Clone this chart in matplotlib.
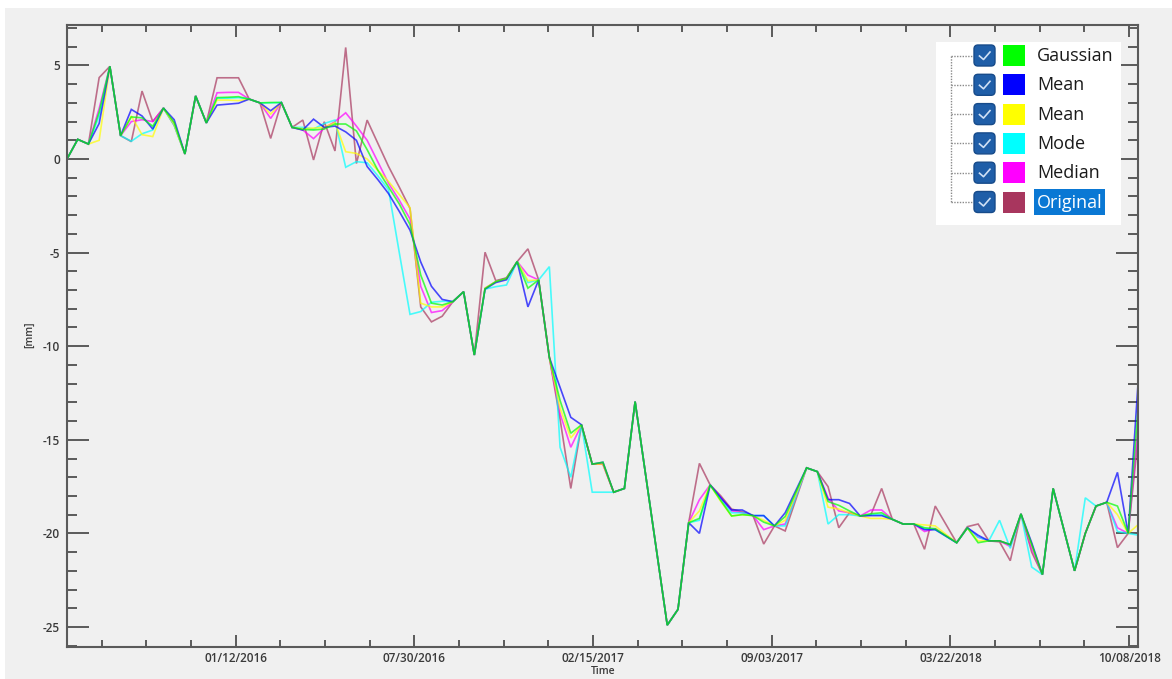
import numpy as np
import matplotlib
matplotlib.use('Agg')
import matplotlib.pyplot as plt
import matplotlib.dates as mdates
from matplotlib.patches import Rectangle, FancyBboxPatch
from matplotlib.ticker import FixedLocator, MultipleLocator, NullFormatter

plt.rcParams['axes.unicode_minus'] = False

# ---------------- data ----------------
start_date = np.datetime64('2015-07-07')
revisit_days = 12
acq_idx = [0, 1, 2, 3, 4, 5, 6, 7, 8, 9,
           10, 11, 12, 13, 14, 15, 16, 17, 18, 19,
           20, 21, 22, 23, 24, 25, 26, 27, 28, 29,
           30, 31, 32, 33, 34, 35, 36, 37, 38, 39,
           40, 41, 42, 43, 44, 45, 46, 47, 48, 49,
           50, 51, 52, 53,
           56, 57,
           58, 59, 60, 61, 62, 63, 64, 65, 66, 67,
           69, 70, 71, 72, 73, 74, 75, 76, 77, 78, 79, 80, 81,
           83, 84, 85, 86, 87, 88, 89, 90, 91, 92,
           94, 95, 96, 97, 98, 99, 100]

gaussian = [0.0, 1.05, 0.8, 2.5, 4.95, 1.25, 2.25, 2.2, 1.75, 2.72,
            1.95, 0.27, 3.37, 1.93, 3.28, 3.3, 3.33, 3.2, 3.0, 3.02,
            3.02, 1.69, 1.58, 1.55, 1.6, 1.87, 1.87, 1.5, 0.5, -0.6,
            -1.5, -2.4, -3.5, -6.2, -7.7, -7.8, -7.62, -7.09, -10.47, -6.93,
            -6.55, -6.37, -5.48, -6.9, -6.46, -10.6, -12.9, -14.65, -14.2, -16.3,
            -16.2, -17.8, -17.6, -12.96,
            -24.9, -24.06,
            -19.43, -19.2, -17.41, -18.25, -19.07, -19.0, -19.05, -19.4, -19.6, -19.1,
            -16.5, -16.7, -18.3, -18.5, -18.8, -19.07, -18.95, -18.9, -19.25, -19.5, -19.5, -19.7, -19.75,
            -20.5, -19.7, -20.5, -20.4, -20.4, -20.6, -18.96, -20.6, -22.2, -17.6,
            -22.0, -20.0, -18.54, -18.34, -18.54, -20.0, -12.8]

mean_blue = [0.0, 1.05, 0.8, 1.9, 4.95, 1.25, 2.65, 2.3, 1.6, 2.72,
             2.1, 0.27, 3.37, 1.93, 2.88, 2.93, 2.98, 3.2, 3.0, 2.58,
             3.02, 1.69, 1.55, 2.13, 1.69, 1.76, 1.45, 1.0, -0.4, -1.1,
             -1.85, -2.8, -3.8, -5.5, -6.8, -7.5, -7.62, -7.09, -10.47, -6.95,
             -6.6, -6.45, -5.48, -7.9, -6.46, -10.6, -12.2, -13.8, -14.2, -16.3,
             -16.2, -17.8, -17.6, -12.96,
             -24.9, -24.06,
             -19.43, -20.0, -17.41, -18.1, -18.75, -18.75, -19.05, -19.05, -19.6, -18.9,
             -16.5, -16.7, -18.2, -18.2, -18.4, -19.07, -19.05, -19.05, -19.25, -19.5, -19.5, -19.8, -19.8,
             -20.5, -19.7, -20.1, -20.4, -20.4, -20.6, -18.96, -20.5, -22.2, -17.6,
             -22.0, -20.0, -18.54, -18.34, -16.74, -20.0, -11.3]

mean_yellow = [0.0, 1.05, 0.8, 1.0, 4.95, 1.25, 2.3, 1.3, 1.2, 2.72,
               1.85, 0.27, 3.37, 1.93, 3.15, 3.15, 3.12, 3.2, 3.0, 2.4,
               3.02, 1.69, 1.62, 1.65, 1.7, 1.95, 0.39, 0.3, 0.0, -0.6,
               -1.2, -1.9, -2.6, -7.7, -7.9, -7.9, -7.62, -7.09, -10.47, -6.9,
               -6.55, -6.4, -5.48, -6.5, -6.46, -10.6, -13.3, -14.9, -14.2, -16.3,
               -16.3, -17.8, -17.6, -12.96,
               -24.9, -24.06,
               -19.43, -18.8, -17.41, -18.3, -19.07, -19.0, -19.05, -19.3, -19.6, -19.3,
               -16.5, -16.7, -18.6, -18.7, -18.9, -19.07, -19.2, -19.2, -19.25, -19.5, -19.5, -19.55, -19.6,
               -20.5, -19.7, -20.4, -20.4, -20.4, -20.6, -18.96, -20.6, -22.2, -17.6,
               -22.0, -20.0, -18.54, -18.34, -19.0, -20.0, -19.5]

mode = [0.0, 1.05, 0.8, 2.3, 4.95, 1.25, 0.95, 1.35, 1.55, 2.72,
        1.8, 0.27, 3.37, 1.93, 3.25, 3.25, 3.28, 3.2, 3.0, 3.0,
        3.02, 1.69, 1.69, 1.6, 1.9, 2.08, -0.44, -0.14, -0.2, -0.9,
        -1.65, -5.0, -8.3, -8.15, -7.65, -7.6, -7.62, -7.09, -10.47, -6.95,
        -6.82, -6.73, -5.48, -6.6, -6.46, -5.75, -15.4, -17.0, -14.2, -17.8,
        -17.8, -17.8, -17.6, -12.96,
        -24.9, -24.06,
        -19.43, -19.3, -17.41, -18.2, -18.9, -18.9, -19.05, -19.05, -19.6, -19.6,
        -16.5, -16.7, -19.5, -19.0, -19.0, -19.07, -19.0, -19.0, -19.25, -19.5, -19.5, -19.75, -19.8,
        -20.5, -19.7, -20.2, -20.4, -19.3, -20.8, -18.96, -21.8, -22.2, -17.6,
        -22.0, -18.1, -18.54, -18.34, -19.9, -20.0, -20.1]

median = [0.0, 1.05, 0.8, 2.7, 4.95, 1.25, 2.0, 2.1, 2.0, 2.72,
          1.9, 0.27, 3.37, 1.93, 3.54, 3.56, 3.56, 3.2, 3.0, 2.17,
          3.02, 1.69, 1.55, 1.09, 1.65, 2.0, 2.47, 1.76, 1.0, -0.15,
          -1.3, -2.2, -3.2, -6.8, -8.2, -8.1, -7.62, -7.09, -10.47, -6.9,
          -6.55, -6.37, -5.48, -6.2, -6.46, -10.6, -13.6, -15.4, -14.2, -16.3,
          -16.3, -17.8, -17.6, -12.96,
          -24.9, -24.06,
          -19.43, -18.2, -17.41, -18.1, -18.8, -18.9, -19.05, -19.8, -19.6, -19.5,
          -16.5, -16.7, -18.1, -18.8, -18.9, -19.07, -18.75, -18.75, -19.25, -19.5, -19.5, -19.9, -19.75,
          -20.5, -19.7, -20.2, -20.4, -20.4, -20.7, -18.96, -20.8, -22.2, -17.6,
          -22.0, -20.0, -18.54, -18.34, -19.7, -20.0, -13.8]

original = [0.0, 1.05, 0.8, 4.35, 4.95, 1.25, 0.93, 3.63, 2.0, 2.72,
            1.8, 0.27, 3.37, 1.93, 4.34, 4.34, 4.34, 3.2, 3.0, 1.1,
            3.02, 1.69, 2.08, -0.05, 1.99, 0.43, 5.96, -0.24, 2.08, 0.84,
            -0.4, -1.5, -2.64, -7.9, -8.7, -8.4, -7.62, -7.09, -10.47, -4.98,
            -6.5, -6.35, -5.48, -4.8, -6.46, -10.6, -13.9, -17.6, -14.2, -16.3,
            -16.3, -17.8, -17.6, -12.96,
            -24.9, -24.06,
            -19.43, -16.26, -17.41, -18.0, -18.7, -18.85, -19.05, -20.57, -19.6, -19.87,
            -16.5, -16.7, -17.5, -19.7, -18.9, -19.07, -19.0, -17.6, -19.25, -19.5, -19.5, -20.85, -18.54,
            -20.5, -19.64, -19.5, -20.4, -20.45, -21.46, -18.96, -21.0, -22.2, -17.6,
            -22.0, -20.0, -18.54, -18.34, -20.76, -20.0, -14.5]

legend_labels = ['Gaussian', 'Mean', 'Mean', 'Mode', 'Median', 'Original']
legend_colors = ['#00ff00', '#0000ff', '#ffff00', '#00ffff', '#ff00ff', '#a8365e']

major_tick_dates = ['2016-01-12', '2016-07-30', '2017-02-15', '2017-09-03', '2018-03-22', '2018-10-08']
x_limits = ['2015-07-07', '2018-10-18']
y_limits = (-26.07, 7.16)

# ---------------- figure ----------------
W, H = 1172, 679
fig = plt.figure(figsize=(W / 100, H / 100), dpi=100, facecolor='white')
fig.patches.append(Rectangle((5 / W, 0), 1 - 5 / W, 1 - 8 / H, transform=fig.transFigure,
                             facecolor='#f0f0f0', edgecolor='none', zorder=-10))

ax = fig.add_axes([67 / W, 1 - 647 / H, (1138 - 67) / W, (647 - 25) / H], zorder=1)
ax.set_facecolor('#f0f0f0')

dates = start_date + np.array(acq_idx) * np.timedelta64(revisit_days, 'D')
xd = mdates.date2num(dates.astype('datetime64[D]').astype(object))

series = [(original, '#a8365e'), (median, '#ff00ff'), (mode, '#00ffff'),
          (mean_yellow, '#ffff00'), (mean_blue, '#0000ff'), (gaussian, '#00ff00')]
for vals, col in series:
    ax.plot(xd, vals, color=col, lw=1.2, alpha=0.7, solid_joinstyle='miter')

xl = [mdates.date2num(np.datetime64(d).astype(object)) for d in x_limits]
ax.set_xlim(xl)
ax.set_ylim(*y_limits)

maj = [mdates.date2num(np.datetime64(d).astype(object)) for d in major_tick_dates]
minor = []
for k in range(len(maj) - 1):
    for j in range(1, 4):
        minor.append(maj[k] + (maj[k + 1] - maj[k]) * j / 4)
for j in range(1, 4):
    minor.append(maj[0] - (maj[1] - maj[0]) * j / 4)
ax.xaxis.set_major_locator(FixedLocator(maj))
ax.xaxis.set_minor_locator(FixedLocator(minor))
ax.xaxis.set_major_formatter(mdates.DateFormatter('%m/%d/%Y'))
ax.xaxis.set_minor_formatter(NullFormatter())
ax.yaxis.set_major_locator(MultipleLocator(5))
ax.yaxis.set_minor_locator(MultipleLocator(1))

tick_col = '#5a5a5a'
ax.tick_params(which='both', direction='in', top=True, right=True, color=tick_col, width=1.4,
               labelcolor='#3a3a3a', labelsize=8.5)
ax.xaxis.set_tick_params(which='major', length=8.6, pad=3.5)
ax.xaxis.set_tick_params(which='minor', length=5)
ax.yaxis.set_tick_params(which='major', length=15.8, pad=5)
ax.yaxis.set_tick_params(which='minor', length=7.5)
for lab in ax.get_xticklabels() + ax.get_yticklabels():
    lab.set_fontfamily('Open Sans')
    lab.set_fontweight('semibold')
for sp in ax.spines.values():
    sp.set_color(tick_col)
    sp.set_linewidth(1.5)

fig.text(603 / W, 1 - 671 / H, 'Time', ha='center', va='center', fontsize=7.5,
         color='#3a3a3a', family='Open Sans', fontweight='semibold')
fig.text(30 / W, 1 - 335 / H, '[mm]', ha='center', va='center', rotation=90, fontsize=7.5,
         color='#3a3a3a', family='Open Sans', fontweight='semibold')

# ---------------- legend (tree-view style) ----------------
lg = fig.add_axes([0, 0, 1, 1], zorder=10)
lg.set_xlim(0, W)
lg.set_ylim(H, 0)
lg.axis('off')
lg.patch.set_alpha(0)
lg.add_patch(Rectangle((936, 42), 185, 183, facecolor='white', edgecolor='none'))
row0, drow = 55.5, 29.3
lg.plot([951, 951], [row0, row0 + 5 * drow], color='#8a8a8a', lw=1, ls=(0, (1, 1)))
for k, (lab, col) in enumerate(zip(legend_labels, legend_colors)):
    yc = row0 + k * drow
    lg.plot([951, 973], [yc, yc], color='#8a8a8a', lw=1, ls=(0, (1, 1)))
    lg.add_patch(FancyBboxPatch((974, yc - 10.5), 21, 21,
                                boxstyle='round,pad=0,rounding_size=4',
                                facecolor='#1f5ea8', edgecolor='#174b8a', lw=1))
    lg.plot([979.5, 983.5, 990], [yc + 0.5, yc + 4, yc - 3.5], color='#cfe0f5', lw=1.2)
    lg.add_patch(Rectangle((1003, yc - 10.5), 22, 21, facecolor=col, edgecolor='none'))
    tcol = '#1a1a1a'
    if lab == 'Original':
        lg.add_patch(Rectangle((1034, yc - 13), 71, 26, facecolor='#0a78d4', edgecolor='none'))
        tcol = 'white'
    lg.text(1037, yc + 0.5, lab, ha='left', va='center', fontsize=13, color=tcol,
            family='Open Sans')

fig.savefig('out.png', dpi=100, facecolor=fig.get_facecolor())
